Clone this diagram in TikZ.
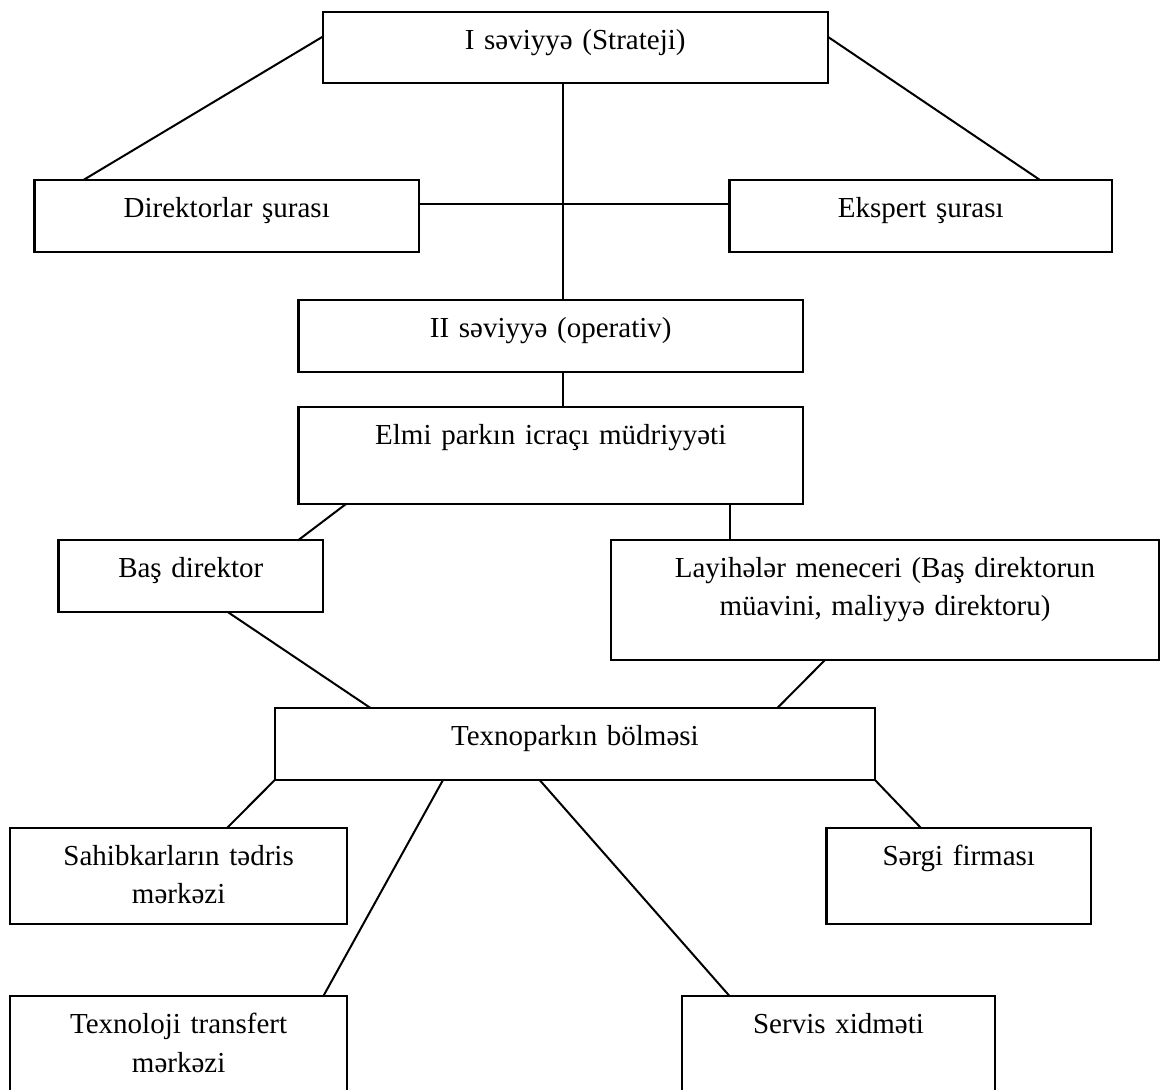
\documentclass[tikz,border=0pt]{standalone}
\usepackage{fontspec}
\setmainfont{Liberation Serif}
\usetikzlibrary{calc}
\tikzset{
  unit/.style 2 args={rectangle,draw=black,line width=1.1pt,inner sep=0pt,outer sep=0pt,anchor=north west,align=center,
    text width=#1*0.5pt,text height=18.75pt,text depth=(#2-37.5)*0.5pt,font=\fontsize{14.5}{19.25}\selectfont},
  link/.style={draw=black,line width=1pt}
}
\begin{document}
\begin{tikzpicture}[x=0.5pt,y=-0.5pt]
    \useasboundingbox (0,0) rectangle (1163,1090);
    \clip (0,0) rectangle (1163,1090);
    \node[unit={505}{71}] (strat) at (322.7,12.3) {I səviyyə (Strateji)};
    \node[unit={384.5}{72}] (dirs) at (34.5,180) {Direktorlar şurası};
    \node[unit={382.5}{72}] (eksp) at (729.5,180) {Ekspert şurası};
    \node[unit={504.5}{72}] (oper) at (298.5,300) {II səviyyə (operativ)};
    \node[unit={504.5}{97}] (icra) at (298.5,407) {Elmi parkın icraçı müdriyyəti};
    \node[unit={264.5}{72}] (bas) at (58.5,540) {Baş direktor};
    \node[unit={548}{120}] (lay) at (611,540) {Layihələr meneceri (Baş direktorun\\müavini, maliyyə direktoru)};
    \node[unit={600.2}{72}] (park) at (274.8,708) {Texnoparkın bölməsi};
    \node[unit={336.7}{96}] (sah) at (10.3,828) {Sahibkarların tədris\\mərkəzi};
    \node[unit={264.5}{96}] (serg) at (826.5,828) {Sərgi firması};
    \node[unit={336.7}{110}] (trans) at (10.3,996) {Texnoloji transfert\\mərkəzi};
    \node[unit={313}{110}] (serv) at (682,996) {Servis xidməti};
    \coordinate (spine) at ($(oper.north west)+(264.1,0)$);
    \draw[link] ($(strat.north west)+(0,24.4)$) -- ($(dirs.north west)+(48.9,0)$);
    \draw[link] ($(strat.north east)+(0,24.4)$) -- ($(eksp.north west)+(310.5,0)$);
    \draw[link] (spine |- strat.south) -- (spine);
    \draw[link] ($(dirs.east)+(0,-12)$) -- ($(eksp.west)+(0,-12)$);
    \draw[link] (spine |- oper.south) -- (spine |- icra.north);
    \draw[link] ($(icra.south west)+(47.5,0)$) -- ($(bas.north west)+(240,0)$);
    \draw[link] ($(icra.south west)+(431,0)$) -- ($(lay.north west)+(118.5,0)$);
    \draw[link] ($(bas.south west)+(169.2,0)$) -- ($(park.north west)+(95.7,0)$);
    \draw[link] ($(lay.south west)+(214,0)$) -- ($(park.north west)+(502.6,0)$);
    \draw[link] (park.south west) -- ($(sah.north west)+(216.7,0)$);
    \draw[link] ($(park.south west)+(168.2,0)$) -- ($(trans.north west)+(313.1,0)$);
    \draw[link] ($(park.south west)+(264.8,0)$) -- ($(serv.north west)+(47.5,0)$);
    \draw[link] (park.south east) -- ($(serg.north west)+(94.5,0)$);
\end{tikzpicture}
\end{document}
